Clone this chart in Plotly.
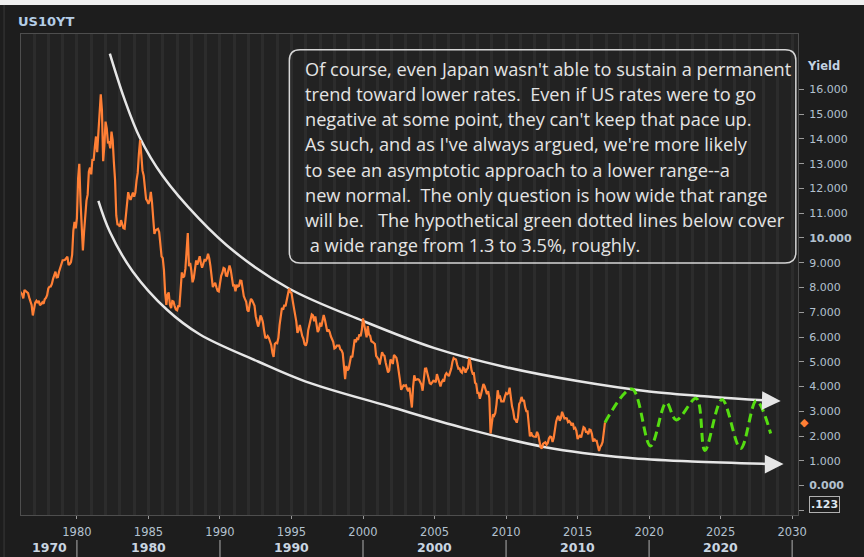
import numpy as np
import plotly.graph_objects as go

# ---------------- DATA ----------------
start_year = 1976
# US 10Y Treasury yield, monthly, Jan 1976 .. Dec 2016
us10y_monthly = [
    7.74, 7.79, 7.73, 7.56, 7.90, 7.86, 7.83, 7.77, 7.59, 7.41, 7.29, 6.87,   # 1976
    7.21, 7.39, 7.46, 7.37, 7.46, 7.28, 7.33, 7.40, 7.34, 7.52, 7.58, 7.69,   # 1977
    7.96, 8.03, 8.04, 8.15, 8.35, 8.46, 8.64, 8.41, 8.42, 8.64, 8.81, 9.01,   # 1978
    9.10, 9.10, 9.12, 9.18, 9.25, 8.91, 8.95, 9.03, 9.33, 10.30, 10.65, 10.39,  # 1979
    10.80, 12.41, 13.00, 11.47, 10.18, 9.50, 10.25, 11.10, 11.51, 11.75, 12.68, 12.84,  # 1980
    12.57, 13.19, 13.12, 13.68, 14.10, 13.47, 14.28, 14.94, 15.80, 15.15, 13.10, 13.72,  # 1981
    14.70, 14.43, 13.86, 13.87, 13.62, 14.30, 13.95, 13.06, 12.34, 10.91, 10.55, 10.54,  # 1982
    10.46, 10.72, 10.51, 10.40, 10.38, 10.85, 11.38, 11.85, 11.65, 11.54, 11.69, 11.83,  # 1983
    11.67, 11.84, 12.32, 12.63, 13.41, 13.95, 13.36, 12.72, 12.52, 12.16, 11.57, 11.50,  # 1984
    11.38, 11.51, 11.86, 11.43, 10.85, 10.16, 10.31, 10.33, 10.37, 10.24, 9.78, 9.26,   # 1985
    9.19, 8.70, 7.78, 7.30, 7.71, 7.80, 7.30, 7.17, 7.45, 7.43, 7.25, 7.11,   # 1986
    7.08, 7.25, 7.25, 8.02, 8.61, 8.40, 8.45, 8.76, 9.42, 10.20, 8.86, 8.99,  # 1987
    8.67, 8.21, 8.37, 8.72, 9.09, 8.92, 9.06, 9.26, 8.98, 8.80, 8.96, 9.11,   # 1988
    9.09, 9.17, 9.36, 9.18, 8.86, 8.28, 8.02, 8.11, 8.19, 8.01, 7.87, 7.84,   # 1989
    8.21, 8.47, 8.59, 8.79, 8.76, 8.48, 8.47, 8.75, 8.89, 8.72, 8.39, 8.08,   # 1990
    8.09, 7.85, 8.11, 8.04, 8.07, 8.28, 8.27, 7.90, 7.65, 7.53, 7.42, 7.09,   # 1991
    7.03, 7.34, 7.54, 7.48, 7.39, 7.26, 6.84, 6.59, 6.42, 6.59, 6.87, 6.77,   # 1992
    6.60, 6.26, 5.98, 5.97, 6.04, 5.96, 5.81, 5.68, 5.36, 5.20, 5.72, 5.77,   # 1993
    5.75, 5.97, 6.48, 6.97, 7.18, 7.10, 7.30, 7.24, 7.46, 7.74, 7.96, 7.81,   # 1994
    7.78, 7.47, 7.20, 7.06, 6.63, 6.17, 6.28, 6.49, 6.20, 6.04, 5.93, 5.71,   # 1995
    5.65, 5.81, 6.27, 6.51, 6.74, 6.91, 6.87, 6.64, 6.83, 6.53, 6.20, 6.30,   # 1996
    6.58, 6.42, 6.69, 6.89, 6.71, 6.49, 6.22, 6.30, 6.21, 6.03, 5.88, 5.81,   # 1997
    5.54, 5.57, 5.65, 5.64, 5.65, 5.50, 5.46, 5.34, 4.81, 4.30, 4.83, 4.65,   # 1998
    4.72, 5.00, 5.23, 5.18, 5.54, 5.90, 5.79, 5.94, 5.92, 6.11, 6.03, 6.28,   # 1999
    6.75, 6.52, 6.26, 5.99, 6.44, 6.10, 6.05, 5.83, 5.80, 5.74, 5.72, 5.24,   # 2000
    5.16, 5.10, 4.89, 5.14, 5.39, 5.28, 5.24, 4.97, 4.73, 4.57, 4.65, 5.09,   # 2001
    5.04, 4.91, 5.28, 5.21, 5.16, 4.93, 4.65, 4.26, 3.87, 3.94, 4.05, 4.03,   # 2002
    4.05, 3.90, 3.81, 3.96, 3.57, 3.15, 3.98, 4.45, 4.27, 4.29, 4.30, 4.27,   # 2003
    4.15, 4.08, 3.83, 4.35, 4.72, 4.73, 4.50, 4.28, 4.13, 4.10, 4.19, 4.23,   # 2004
    4.22, 4.17, 4.50, 4.34, 4.14, 4.00, 4.18, 4.26, 4.20, 4.46, 4.54, 4.47,   # 2005
    4.42, 4.57, 4.72, 4.99, 5.15, 5.11, 5.09, 4.88, 4.72, 4.73, 4.60, 4.56,   # 2006
    4.76, 4.72, 4.56, 4.69, 4.75, 5.15, 5.00, 4.67, 4.52, 4.53, 4.15, 4.10,   # 2007
    3.74, 3.74, 3.51, 3.68, 3.88, 4.10, 4.01, 3.89, 3.69, 3.81, 3.53, 2.10,   # 2008
    2.52, 2.87, 2.82, 2.93, 3.29, 3.85, 3.56, 3.59, 3.40, 3.39, 3.40, 3.59,   # 2009
    3.73, 3.69, 3.73, 3.95, 3.42, 3.20, 3.01, 2.70, 2.65, 2.54, 2.76, 3.29,   # 2010
    3.39, 3.58, 3.41, 3.46, 3.17, 3.00, 3.00, 2.30, 1.98, 2.15, 2.01, 1.98,   # 2011
    1.97, 1.97, 2.17, 2.05, 1.80, 1.55, 1.50, 1.68, 1.72, 1.75, 1.65, 1.72,   # 2012
    1.91, 1.98, 1.96, 1.76, 1.93, 2.30, 2.58, 2.74, 2.81, 2.62, 2.72, 2.98,   # 2013
    2.86, 2.71, 2.72, 2.71, 2.56, 2.60, 2.54, 2.42, 2.53, 2.30, 2.33, 2.21,   # 2014
    1.88, 1.98, 2.04, 1.94, 2.20, 2.36, 2.32, 2.17, 2.17, 2.07, 2.26, 2.24,   # 2015
    2.09, 1.78, 1.89, 1.81, 1.81, 1.64, 1.40, 1.56, 1.63, 1.76, 2.14, 2.55,   # 2016
]

# hypothetical green path (year, yield)
proj_years = [2016.92, 2018.8, 2020.1, 2021.2, 2021.9, 2023.3, 2023.9, 2025.1, 2026.4, 2027.5, 2028.5]
proj_yield = [2.55, 3.90, 1.60, 3.35, 2.65, 3.52, 1.42, 3.48, 1.50, 3.43, 2.10]

# hand-drawn channel curves (year, yield)
upper_years = [1982.3, 1983.3, 1984.4, 1986.0, 1988.5, 1991.0, 1994.85, 2000.0, 2005.0, 2010.0, 2015.0, 2020.0, 2024.5, 2028.6]
upper_yield = [17.45, 15.65, 14.05, 12.5, 10.8, 9.45, 7.95, 6.65, 5.55, 4.78, 4.22, 3.80, 3.58, 3.42]
upper_tip = (2029.2, 3.41)
lower_years = [1981.5, 1982.3, 1983.9, 1986.3, 1988.6, 1992.7, 1996.0, 2001.8, 2007.0, 2012.75, 2018.5, 2023.0, 2028.6]
lower_yield = [11.5, 10.25, 8.65, 7.10, 6.10, 5.00, 4.20, 3.20, 2.33, 1.55, 1.12, 0.97, 0.87]
lower_tip = (2029.4, 0.87)

x_tick_years = [1980, 1985, 1990, 1995, 2000, 2005, 2010, 2015, 2020, 2025, 2030]
decade_labels = ["1970", "1980", "1990", "2000", "2010", "2020"]
decade_label_x = [1978.05, 1985, 1995, 2005, 2015, 2025]
decade_separators = [1980, 1990, 2000, 2010, 2020, 2030]
y_tick_values = list(range(-1, 17))

note_lines = [
    "Of course, even Japan wasn't able to sustain a permanent",
    "trend toward lower rates.  Even if US rates were to go",
    "negative at some point, they can't keep that pace up.",
    "As such, and as I've always argued, we're more likely",
    "to see an asymptotic approach to a lower range--a",
    "new normal.  The only question is how wide that range",
    "will be.   The hypothetical green dotted lines below cover",
    " a wide range from 1.3 to 3.5%, roughly.",
]

# ---------------- FIGURE ----------------
x_hist = start_year + np.arange(len(us10y_monthly)) / 12.0

BG = "#1d1d1d"
PLOT_BG = "#222222"
GRID = "#2c2c2c"
TXT = "#b3c1cf"
FONT = "DejaVu Sans"

fig = go.Figure()
fig.add_trace(go.Scatter(x=upper_years, y=upper_yield, mode="lines",
                         line=dict(color="#e6e6e6", width=2.5, shape="spline"), hoverinfo="skip"))
fig.add_trace(go.Scatter(x=lower_years, y=lower_yield, mode="lines",
                         line=dict(color="#e6e6e6", width=2.5, shape="spline"), hoverinfo="skip"))
fig.add_trace(go.Scatter(x=x_hist, y=us10y_monthly, mode="lines",
                         line=dict(color="#ff7f35", width=2.2)))
fig.add_trace(go.Scatter(x=proj_years, y=proj_yield, mode="lines",
                         line=dict(color="#55dd11", width=3, dash="9px,5px", shape="spline", smoothing=1.0)))

annotations = []
# arrow heads
for tip, xs, ys in [(upper_tip, upper_years, upper_yield), (lower_tip, lower_years, lower_yield)]:
    annotations.append(dict(x=tip[0], y=tip[1], ax=xs[-1], ay=ys[-1], xref="x", yref="y",
                            axref="x", ayref="y", showarrow=True, arrowhead=2, arrowsize=1.5,
                            arrowwidth=2.5, arrowcolor="#e6e6e6", text=""))

# note text lines
line_y0 = 16.82
line_step = 1.014
for i, t in enumerate(note_lines):
    annotations.append(dict(x=1995.83, y=line_y0 - i * line_step, xref="x", yref="y",
                            xanchor="left", yanchor="middle", showarrow=False,
                            text=t.replace(" ", "\u00a0") if t.startswith(" ") else t,
                            font=dict(family="Open Sans", size=18.2, color="#e4e4e4")))

# title
annotations.append(dict(x=-0.0064, y=1.027, xref="paper", yref="paper", xanchor="left",
                        yanchor="middle", showarrow=False, text="<b>US10YT</b>",
                        font=dict(family=FONT, size=13, color="#b4cde6")))
# Yield label
annotations.append(dict(x=1.0334, y=0.9335, xref="paper", yref="paper", xanchor="center",
                        yanchor="middle", showarrow=False, text="<b>Yield</b>",
                        font=dict(family=FONT, size=11.5, color="#c3d2e2")))
# last value marker
annotations.append(dict(x=1.009, y=us10y_monthly[-1], xref="paper", yref="y", xanchor="center",
                        yanchor="middle", showarrow=False, text="◆",
                        font=dict(family=FONT, size=11, color="#ff7f35")))
# .123 box
annotations.append(dict(x=1.0347, y=0.0208, xref="paper", yref="paper", xanchor="center",
                        yanchor="middle", showarrow=False, text="<b>.123</b>",
                        bordercolor="#b0b0b0", borderwidth=1, borderpad=1,
                        font=dict(family=FONT, size=11, color="#dfe8f0")))
# decade labels
for lbl, xv in zip(decade_labels, decade_label_x):
    annotations.append(dict(x=xv, y=-0.0686, xref="x", yref="paper", xanchor="center",
                            yanchor="middle", showarrow=False, text=f"<b>{lbl}</b>",
                            font=dict(family=FONT, size=12.5, color="#c9d5e1")))

shapes = []
for xv in decade_separators:
    shapes.append(dict(type="line", xref="x", yref="paper", x0=xv, x1=xv, y0=-0.052, y1=-0.0873,
                       line=dict(color="#b0b0b0", width=1)))
# rounded note box
bx0, bx1, by0, by1 = 1994.85, 2030.26, 8.99, 17.6
rx, ry = 0.75, 0.43
path = (f"M {bx0+rx},{by1} L {bx1-rx},{by1} Q {bx1},{by1} {bx1},{by1-ry} "
        f"L {bx1},{by0+ry} Q {bx1},{by0} {bx1-rx},{by0} L {bx0+rx},{by0} "
        f"Q {bx0},{by0} {bx0},{by0+ry} L {bx0},{by1-ry} Q {bx0},{by1} {bx0+rx},{by1} Z")
shapes.append(dict(type="path", xref="x", yref="y", path=path,
                   line=dict(color="#d6d6d6", width=1.5), fillcolor="rgba(0,0,0,0)"))
# top light strip and left frame line
shapes.append(dict(type="rect", xref="paper", yref="paper", x0=-0.03, x1=1.09, y0=1.0603, y1=1.08,
                   fillcolor="#efefef", line=dict(width=0)))
shapes.append(dict(type="line", xref="paper", yref="paper", x0=-0.0218, x1=-0.0218, y0=-0.09, y1=1.0603,
                   line=dict(color="#3a3a3a", width=1)))

y_tick_text = []
for v in y_tick_values:
    if v < 0:
        y_tick_text.append("")
    elif v in (0, 10):
        y_tick_text.append(f"<b>{v:.3f}</b>")
    else:
        y_tick_text.append(f"{v:.3f}")

fig.update_layout(
    width=864, height=557,
    margin=dict(l=21, r=64, t=34, b=42),
    paper_bgcolor=BG, plot_bgcolor=PLOT_BG,
    showlegend=False,
    annotations=annotations, shapes=shapes,
    xaxis=dict(range=[1976.09, 2030.41], tickmode="array", tickvals=x_tick_years,
               ticktext=[str(v) for v in x_tick_years],
               tickfont=dict(family=FONT, size=11.5, color=TXT),
               ticks="outside", ticklen=3, tickcolor="#9a9a9a", ticklabelstandoff=3,
               showgrid=True, gridcolor=GRID, gridwidth=3,
               minor=dict(tickmode="linear", tick0=1976, dtick=1, showgrid=True,
                          gridcolor=GRID, gridwidth=3, ticks=""),
               showline=True, mirror=True, linecolor="#4e4e4e", linewidth=1, zeroline=False),
    yaxis=dict(side="right", range=[-1.19, 18.24], tickmode="array", tickvals=y_tick_values,
               ticktext=y_tick_text, tickfont=dict(family=FONT, size=11, color=TXT),
               ticks="outside", ticklen=5, tickcolor="#9a9a9a", ticklabelstandoff=3,
               showgrid=False, showline=True, mirror=True, linecolor="#4e4e4e", linewidth=1,
               zeroline=False),
)

fig.write_html("out.html", config={"displayModeBar": False},
               post_script="document.body.style.margin='0px';document.body.style.background='#1d1d1d';")
